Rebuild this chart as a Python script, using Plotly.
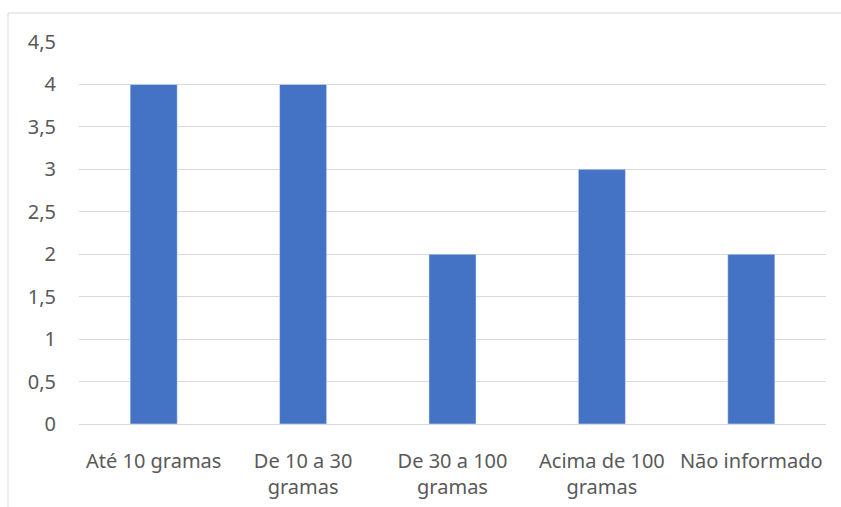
import plotly.graph_objects as go

categories = ["Até 10 gramas", "De 10 a 30 gramas", "De 30 a 100 gramas",
              "Acima de 100 gramas", "Não informado"]
tick_labels = ["Até 10 gramas", "De 10 a 30<br>gramas", "De 30 a 100<br>gramas",
               "Acima de 100<br>gramas", "Não informado"]
values = [4, 4, 2, 3, 2]

W, H = 841, 507
L, R, T, B = 79, 15, 42, 83
pw, ph = W - L - R, H - T - B

fig = go.Figure(go.Bar(
    x=categories, y=values, marker_color="#4472C4", width=0.315,
    hoverinfo="x+y",
))

font = dict(family="Noto Sans", size=20, color="#595959")

fig.update_layout(
    width=W, height=H,
    margin=dict(l=L, r=R, t=T, b=B, pad=0, autoexpand=False),
    plot_bgcolor="white", paper_bgcolor="white",
    separators=",.",
    font=font,
    showlegend=False,
    xaxis=dict(
        tickmode="array", tickvals=categories, ticktext=tick_labels,
        showgrid=False, showline=True, linecolor="#d9d9d9", linewidth=1,
        ticks="", ticklabelstandoff=19, zeroline=False, automargin=False,
    ),
    yaxis=dict(
        range=[0, 4.5], dtick=0.5, showgrid=True, gridcolor="#d9d9d9",
        gridwidth=1, zeroline=False, showline=False, ticks="",
        ticklabelstandoff=22, automargin=False,
    ),
    shapes=[dict(
        type="rect", xref="paper", yref="paper",
        x0=(8 - L) / pw, x1=(W + 5 - L) / pw,
        y0=-(H + 5 - (T + ph)) / ph, y1=(T + ph - 13) / ph,
        line=dict(color="#d9d9d9", width=1), fillcolor="rgba(0,0,0,0)",
        layer="below",
    )],
)

fig.write_html("out.html")
